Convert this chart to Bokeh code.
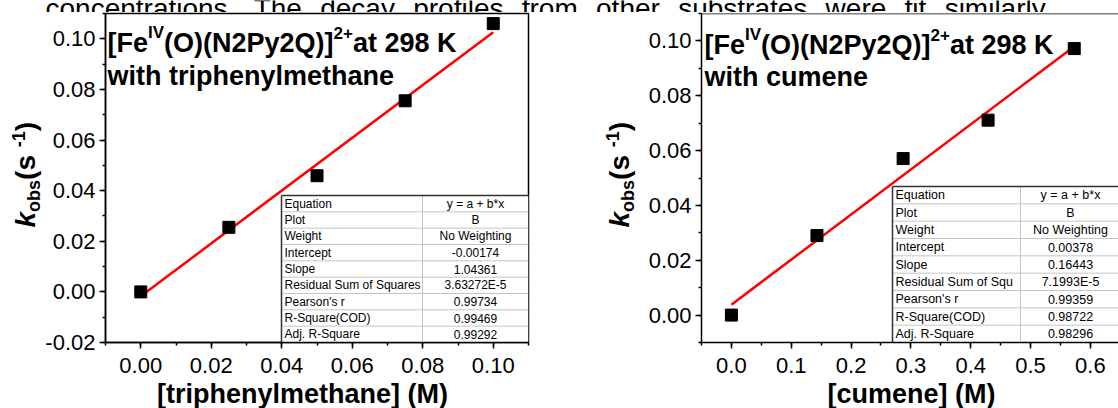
import math
from bokeh.plotting import figure
from bokeh.layouts import column, row
from bokeh.models import Label, Span, Range1d, SingleIntervalTicker, PrintfTickFormatter
from bokeh.core.properties import value
from bokeh.embed import file_html
from bokeh.resources import INLINE

FONT = "Liberation Sans"

# ---------------- data ----------------
caption_words = ["concentrations.", "The", "decay", "profiles", "from", "other",
                 "substrates", "were", "fit", "similarly."]

tpm_conc = [0.0, 0.025, 0.05, 0.075, 0.10]          # [triphenylmethane] (M)
tpm_kobs = [0.0, 0.0255, 0.0459, 0.0755, 0.1060]    # k_obs (s^-1)

cum_conc = [0.0, 0.143, 0.287, 0.429, 0.573]        # [cumene] (M)
cum_kobs = [0.0, 0.0290, 0.0571, 0.0711, 0.0972]    # k_obs (s^-1)

fit_names_tpm = ["Equation", "Plot", "Weight", "Intercept", "Slope",
                 "Residual Sum of Squares", "Pearson's r", "R-Square(COD)", "Adj. R-Square"]
fit_values_tpm = ["y = a + b*x", "B", "No Weighting", "-0.00174", "1.04361",
                  "3.63272E-5", "0.99734", "0.99469", "0.99292"]

fit_names_cum = ["Equation", "Plot", "Weight", "Intercept", "Slope",
                 "Residual Sum of Squ", "Pearson's r", "R-Square(COD)", "Adj. R-Square"]
fit_values_cum = ["y = a + b*x", "B", "No Weighting", "0.00378", "0.16443",
                  "7.1993E-5", "0.99359", "0.98722", "0.98296"]

complex_parts = [("[Fe", False), ("IV", True), ("(O)(N2Py2Q)]", False), ("2+", True), ("at 298 K", False)]
tpm_subject = "with triphenylmethane"
cum_subject = "with cumene"
x_titles = ["[triphenylmethane] (M)", "[cumene] (M)"]
y_title_parts = [("k", "main", "bold italic"), ("obs", "sub", "bold"), (" (s", "main", "bold"),
                 ("-1", "sup", "bold"), (")", "main", "bold")]

# Liberation Sans / Arial advance widths (1/1000 em)
REGULAR_W = {' ': 278, "'": 191, '.': 278, '-': 333, 'T': 611, 'a': 556, 'b': 556, 'c': 500,
             'd': 556, 'e': 556, 'f': 278, 'h': 556, 'i': 222, 'l': 222, 'm': 833, 'n': 556,
             'o': 556, 'p': 556, 'r': 333, 's': 500, 't': 278, 'u': 556, 'w': 722, 'y': 500}
BOLD_W = {' ': 278, '(': 333, ')': 333, '+': 584, '-': 333, '[': 333, ']': 333, 'F': 611,
          'I': 278, 'K': 722, 'N': 722, 'O': 778, 'P': 667, 'Q': 778, 'V': 667, 'a': 556,
          'b': 611, 'c': 556, 'e': 556, 'h': 611, 'i': 278, 'k': 556, 'l': 278, 'm': 889,
          'n': 611, 'o': 611, 'p': 611, 'r': 389, 's': 556, 't': 333, 'u': 611, 'w': 778,
          'y': 556}
ASCENT, DESCENT = 0.905, 0.212


def text_width(s, size, bold=False):
    table = BOLD_W if bold else REGULAR_W
    return sum(table.get(ch, 556) for ch in s) * size / 1000.0


PAGE_W = 1118
PAGE_H = 408
CAPTION_H = 12
TITLE_H = 30
PANEL_H = PAGE_H - CAPTION_H - TITLE_H
FRAME_TOP = 1
FRAME_H = 329
FRAME_BOTTOM = PANEL_H - FRAME_TOP - FRAME_H


def bare_figure(width, height, top=0, bottom=0, y_rng=None):
    f = figure(width=width, height=height, x_range=Range1d(0, width),
               y_range=Range1d(*(y_rng or (0, height))),
               min_border=0, min_border_top=top, min_border_bottom=bottom,
               output_backend="svg", toolbar_location=None, tools="",
               x_axis_location=None, y_axis_location=None)
    f.grid.visible = False
    f.outline_line_color = None
    f.background_fill_color = "white"
    f.border_fill_color = "white"
    return f


def frame_label(p, text, fx, fy, size, style="bold"):
    """Text placed in pixels relative to the frame (fx from left, fy from bottom)."""
    p.add_layout(Label(x=fx, y=fy, x_units="screen", y_units="screen", text=text,
                       text_font=FONT, text_font_size=f"{size}px", text_font_style=style,
                       text_color="black", text_align="left", text_baseline="alphabetic"))


def y_title_strip(width, base_x, start_page_y):
    """Rotated k_obs (s^-1) title in its own narrow strip; y counts up from the page bottom."""
    frame_top_page = CAPTION_H + FRAME_TOP
    frame_bot_page = frame_top_page + FRAME_H
    f = bare_figure(width, PANEL_H, top=FRAME_TOP, bottom=FRAME_BOTTOM,
                    y_rng=(PAGE_H - frame_bot_page, PAGE_H - frame_top_page))
    sizes = {"main": 28, "sub": 18, "sup": 18}
    shift = {"main": 0, "sub": 5, "sup": -11}
    pos = PAGE_H - start_page_y
    for part, kind, style in y_title_parts:
        size = sizes[kind]
        w = text_width(part, size, True)
        cx = base_x + shift[kind] - (ASCENT - DESCENT) / 2.0 * size
        f.text(x=[cx], y=[pos + w / 2.0], text=[part], angle=math.pi / 2,
               text_font=value(FONT), text_font_size=f"{size}px", text_font_style=style,
               text_align="center", text_baseline="middle", text_color="black")
        pos += w
    return f


def build_panel(conc, kobs, names, values, subject, x_rng, y_rng, x_step, x_fmt,
                width, border_left, border_right, closed_right, title_pos, table):
    fw = width - border_left - border_right
    fh = FRAME_H
    p = figure(width=width, height=PANEL_H, x_range=Range1d(*x_rng), y_range=Range1d(*y_rng),
               min_border_left=border_left, min_border_right=border_right,
               min_border_top=FRAME_TOP, min_border_bottom=FRAME_BOTTOM,
               output_backend="svg", toolbar_location=None, tools="")
    p.grid.visible = False
    p.background_fill_color = "white"
    p.border_fill_color = "white"
    if closed_right:
        p.outline_line_color = "black"
        p.outline_line_width = 1.5
        p.outline_line_alpha = 1.0
    else:
        p.outline_line_color = None
        p.add_layout(Span(location=y_rng[1], dimension="width", line_color="black", line_width=1.5))

    p.xaxis.ticker = SingleIntervalTicker(interval=x_step, num_minor_ticks=2)
    p.yaxis.ticker = SingleIntervalTicker(interval=0.02, num_minor_ticks=2)
    p.xaxis.formatter = PrintfTickFormatter(format=x_fmt)
    p.yaxis.formatter = PrintfTickFormatter(format="%.2f")
    for ax in p.axis:
        ax.axis_line_width = 1.5
        ax.axis_line_color = "black"
        ax.major_tick_line_width = 1.5
        ax.minor_tick_line_width = 1.5
        ax.major_tick_line_color = "black"
        ax.minor_tick_line_color = "black"
        ax.major_tick_in = 0
        ax.major_tick_out = 6
        ax.minor_tick_in = 0
        ax.minor_tick_out = 3
        ax.major_label_text_font = FONT
        ax.major_label_text_font_size = "22px"
        ax.major_label_text_color = "black"
    p.yaxis.major_label_standoff = 4
    p.xaxis.major_label_standoff = 9

    # linear fit drawn from the tabulated intercept and slope
    a = float(values[3])
    b = float(values[4])
    fx = [min(conc), max(conc)]
    p.line(fx, [a + b * x for x in fx], line_color="#ff0000", line_width=2.5)
    p.scatter(conc, kobs, marker="square", size=12, fill_color="black", line_color="black")

    # fit-result table inside the frame
    def to_data(px, py):
        x = x_rng[0] + px / fw * (x_rng[1] - x_rng[0])
        y = y_rng[1] - py / fh * (y_rng[1] - y_rng[0])
        return x, y

    t_left, t_top, t_split, t_right, t_font = table
    n = len(names)
    row_h = (fh - t_top) / n
    xl, yt = to_data(t_left, t_top)
    xs, _ = to_data(t_split, 0)
    xr, _ = to_data(t_right, 0)
    yb = y_rng[0]
    p.quad(left=[xl], right=[xr], top=[yt], bottom=[yb], fill_color="white", line_color=None)
    seps = [to_data(0, t_top + row_h * i)[1] for i in range(1, n)]
    p.segment(x0=[xl] * len(seps), y0=seps, x1=[xr] * len(seps), y1=seps,
              line_color="#c4c4c4", line_width=1)
    p.segment(x0=[xs], y0=[yt], x1=[xs], y1=[yb], line_color="#c4c4c4", line_width=1)
    p.segment(x0=[xl, xl], y0=[yt, yt], x1=[xr, xl], y1=[yt, yb], line_color="#333333", line_width=1.5)
    centers = [to_data(0, t_top + row_h * (i + 0.5))[1] for i in range(n)]
    xtext, _ = to_data(t_left + 3, 0)
    xval, _ = to_data((t_split + t_right) / 2.0, 0)
    p.text(x=[xtext] * n, y=centers, text=names, text_font=value(FONT), text_font_size=f"{t_font}px",
           text_baseline="middle", text_align="left", text_color="black")
    p.text(x=[xval] * n, y=centers, text=values, text_font=value(FONT), text_font_size=f"{t_font}px",
           text_baseline="middle", text_align="center", text_color="black")

    # title: complex name with superscripts, then substrate line
    tx, base1, base2 = title_pos
    big, small, rise = 27, 17, 10
    cx = tx
    for part, sup in complex_parts:
        if sup:
            frame_label(p, part, cx, fh - base1 + rise, small)
            cx += text_width(part, small, True)
        else:
            frame_label(p, part, cx, fh - base1, big)
            cx += text_width(part, big, True)
    frame_label(p, subject, tx, fh - base2, big)
    return p


left_ytitle = y_title_strip(42, 35, 227)
left = build_panel(tpm_conc, tpm_kobs, fit_names_tpm, fit_values_tpm, tpm_subject,
                   (-0.01, 0.11), (-0.02, 0.11), 0.02, "%.2f",
                   width=518, border_left=63, border_right=32, closed_right=True,
                   title_pos=(2, 29, 62), table=(176, 182, 317, 423, 12))

right_ytitle = y_title_strip(80, 69, 227)
right = build_panel(cum_conc, cum_kobs, fit_names_cum, fit_values_cum, cum_subject,
                    (-0.05, -0.05 + 417 / 598.3), (-0.01, 0.11), 0.1, "%.1f",
                    width=478, border_left=61, border_right=0, closed_right=False,
                    title_pos=(3, 31, 63), table=(191, 173, 319, 419, 12.5))

# caption line running across the top edge
cap = bare_figure(PAGE_W, CAPTION_H)
cap_size = 28
cap_start, cap_end = 45, 1053
widths = [text_width(w, cap_size) for w in caption_words]
gap = (cap_end - cap_start - sum(widths)) / (len(caption_words) - 1)
xs = []
cx = cap_start
for w in widths:
    xs.append(cx)
    cx += w + gap
cap.text(x=xs, y=[CAPTION_H - 8] * len(xs), text=caption_words, text_font=value(FONT),
         text_font_size=f"{cap_size}px", text_baseline="alphabetic", text_color="black")

# x-axis titles under both panels (the strip sits just below the panel row)
xt = bare_figure(PAGE_W, TITLE_H)
xt.text(x=[302, 911], y=[15, 15], text=x_titles, text_font=value(FONT),
        text_font_size="27px", text_font_style="bold", text_align="center",
        text_baseline="alphabetic", text_color="black")

layout = column(cap, row(left_ytitle, left, right_ytitle, right, spacing=0), xt, spacing=0)
open("out.html", "w").write(file_html(layout, INLINE))
